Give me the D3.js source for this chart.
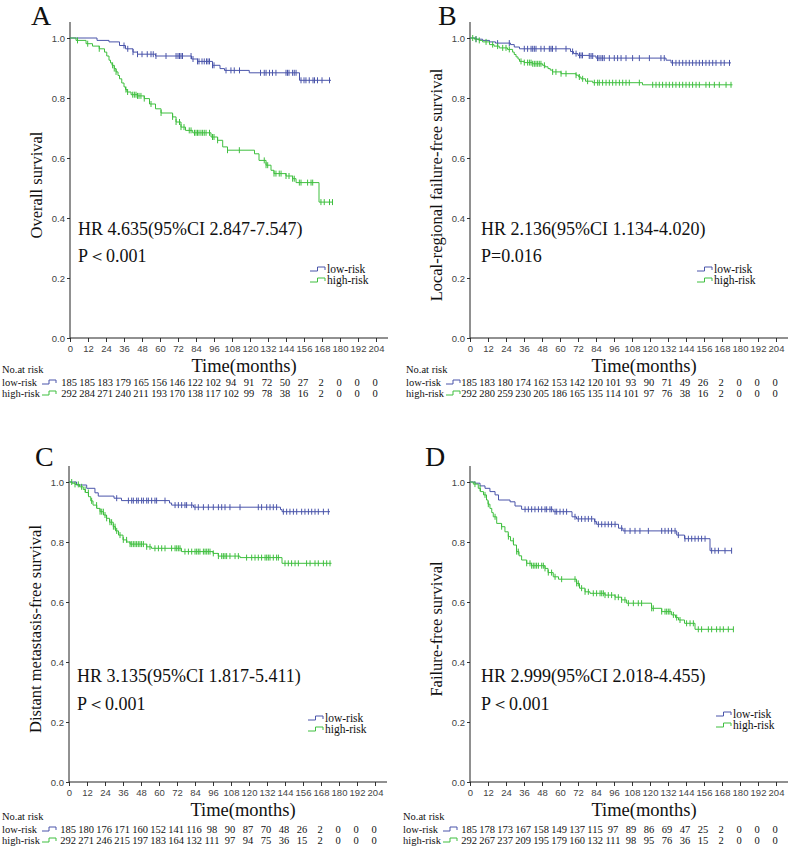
<html>
<head>
<script src="https://d3js.org/d3.v7.min.js"></script>
<style>
  body { margin: 0; background: #fff; }
  text { font-family: "Liberation Serif", "Times New Roman", serif; fill: #111; }
  .tick text { font-family: "Liberation Sans", Arial, sans-serif; fill: #444; }
</style>
</head>
<body>
<svg id="fig" width="789" height="846"></svg>
<script>
// ---- data ----
const monthTicks = [0,12,24,36,48,60,72,84,96,108,120,132,144,156,168,180,192,204];
const survTicks = [0,0.2,0.4,0.6,0.8,1.0];
const groups = ['low-risk', 'high-risk'];

// A: overall survival
const osLow = [[0,1],[18,0.992],[26,0.987],[33,0.975],[37,0.964],[42,0.953],[45,0.946],[57,0.94],[81,0.93],[85,0.922],[95,0.909],[100,0.898],[103,0.892],[119.5,0.884],[153,0.859],[174,0.859]];
const osHigh = [[0,1],[4,0.992],[10.7,0.981],[15,0.973],[19.5,0.964],[23,0.953],[24.5,0.94],[26,0.926],[27,0.917],[28,0.909],[29.5,0.898],[30.7,0.887],[32,0.875],[33,0.864],[34.5,0.85],[36,0.837],[37,0.828],[38,0.82],[40.7,0.811],[45,0.807],[49.5,0.798],[53,0.78],[57,0.764],[60.7,0.75],[68.4,0.737],[70.7,0.72],[74,0.703],[77,0.692],[81.8,0.684],[94,0.67],[98.4,0.659],[101.8,0.637],[105,0.626],[123,0.614],[126,0.592],[130.7,0.576],[134,0.559],[136,0.548],[144,0.54],[148.4,0.531],[150.7,0.518],[166,0.453],[175,0.453]];
const osLowCens = [36,38.5,42,45,48,51.5,54,55.5,57.3,64,70.7,72,73,74,75,80.7,82,85,86,88,89.5,91,92,93,95,96,104,107.3,109.5,113,127,129.5,130.7,133,135,137.3,144,145,146,148.4,149.5,150.7,154,156,157.3,159.5,162,163,165,168,173];
const osHighCens = [5,11.8,19.5,28.4,29.5,30.7,37.3,38.4,41.8,42.9,44,45,46,47.3,49.5,54,60.7,68.4,70.7,73,74,76,79.5,80.7,83,84,85,86,87.3,88.4,89.5,90.7,93,95,96,98.4,105,112.9,129.5,130.7,131.8,136,137.3,139.5,140.7,144,146,148.4,149.5,152.9,154,158.4,160.7,161.8,167.3,169.5,173,175];
const osLowRisk = [185,185,183,179,165,156,146,122,102,94,91,72,50,27,2,0,0,0];
const osHighRisk = [292,284,271,240,211,193,170,138,117,102,99,78,38,16,2,0,0,0];

// B: local-regional failure-free survival
const lrLow = [[0,1],[4,0.996],[8.4,0.992],[13,0.987],[17,0.983],[27,0.978],[29.5,0.97],[33,0.964],[67,0.955],[69,0.948],[72,0.942],[79.5,0.94],[84,0.933],[130.7,0.926],[134,0.917],[174,0.917]];
const lrHigh = [[0,1],[3,0.996],[6,0.992],[8.4,0.987],[13,0.978],[16,0.973],[19.5,0.967],[25,0.962],[28.4,0.953],[29.5,0.945],[30.7,0.937],[32,0.93],[33,0.922],[36,0.918],[41.8,0.914],[48.4,0.909],[50,0.904],[52,0.898],[53.5,0.893],[55,0.887],[60.7,0.881],[70.7,0.876],[72.5,0.87],[74,0.864],[77,0.856],[81.8,0.851],[115,0.844],[175,0.844]];
const lrLowCens = [4,18.4,26.2,36.2,38.4,40.7,41.8,42.9,44,47.3,49.5,52.9,54,55,57.3,64,68.4,70.7,73,74,75,79.5,80.7,81.8,85,86,87.3,88.4,89.5,92.9,96.2,98.4,100.7,104,108.4,112.9,119.6,127.3,129.5,135,137.3,139.5,141.8,144,146.2,148.4,150.7,152.9,155,157.3,159.5,161.8,164,167.3,169.5,173];
const lrHighCens = [1.8,4,6.2,10.7,15.1,18.4,21.8,24,26.2,34,36.2,38.4,39.6,40.7,41.8,42.9,44,45.1,46.2,47.3,49.6,55.1,57.3,60.7,64,70.7,72.9,75.1,78.4,82.9,85.1,86.2,88.4,90.7,92.9,95.1,97.3,99.6,101.8,104,106.2,112.9,121.8,124,126.2,128.4,130.7,132.9,135.1,137.3,139.6,141.8,144,146.2,148.4,150.7,152.9,157.3,159.6,162.9,166.2,170.7,174];
const lrLowRisk = [185,183,180,174,162,153,142,120,101,93,90,71,49,26,2,0,0,0];
const lrHighRisk = [292,280,259,230,205,186,165,135,114,101,97,76,38,16,2,0,0,0];

// C: distant metastasis-free survival
const dmLow = [[0,1],[5,0.99],[11.8,0.979],[17.3,0.964],[19.5,0.953],[30,0.946],[35,0.938],[67,0.93],[68.4,0.923],[83,0.916],[141,0.908],[142,0.901],[174,0.901]];
const dmHigh = [[0,1],[2,0.996],[4,0.992],[7,0.984],[9.5,0.975],[11,0.965],[13,0.951],[14.5,0.937],[16,0.923],[18.5,0.912],[20.7,0.901],[23,0.89],[25,0.879],[27,0.866],[29.5,0.851],[31,0.837],[33,0.823],[36,0.807],[38.5,0.8],[40.7,0.793],[51.8,0.784],[55,0.779],[75,0.768],[96,0.762],[99.5,0.753],[114,0.748],[142,0.729],[175,0.729]];
const dmLowCens = [31.8,39.6,41.8,42.9,45.1,46.2,48.4,49.6,51.8,52.9,55.1,57.3,58.4,64,70.7,72.9,75.1,77.3,78.4,81.8,84,86.2,89.6,92.9,96.2,99.6,101.8,104,107.3,114,126.2,128.4,131.8,134,136.2,138.4,142.9,145.1,147.3,149.6,151.8,155.1,157.3,159.6,161.8,164,166.2,169.6,172.9];
const dmHighCens = [1.8,4,6.2,8.4,10.7,12.9,15.1,18.4,20.7,21.8,22.9,24,25.1,27.3,28.4,29.6,30.7,31.8,34,36.2,38.4,40.7,41.8,42.9,44,45.1,46.2,47.3,48.4,49.6,51.8,54,57.3,59.6,61.8,64,68.4,70.7,71.8,72.9,74,77.3,79.6,81.8,84,85.1,86.2,87.3,89.6,90.7,91.8,92.9,94,96.2,99.6,101.8,102.9,104,105.1,107.3,110.7,112.9,118.4,121.8,124,126.2,128.4,130.7,131.8,132.9,134,136.2,138.4,139.6,144,146.2,148.4,150.7,152.9,158.4,160.7,164,166.2,169.6,171.8,174];
const dmLowRisk = [185,180,176,171,160,152,141,116,98,90,87,70,48,26,2,0,0,0];
const dmHighRisk = [292,271,246,215,197,183,164,132,111,97,94,75,36,15,2,0,0,0];

// D: failure-free survival
const ffLow = [[0,1],[3.3,0.996],[6.7,0.987],[10,0.979],[13.3,0.968],[16.7,0.957],[19,0.94],[26.7,0.934],[30,0.92],[34.4,0.909],[55.5,0.901],[68,0.884],[71,0.877],[83,0.868],[84.4,0.859],[99,0.846],[102,0.837],[137.8,0.823],[143,0.811],[160,0.771],[174.4,0.771]];
const ffHigh = [[0,1],[2.2,0.993],[5.5,0.979],[7,0.968],[9,0.957],[11,0.94],[12,0.926],[13.3,0.912],[14.5,0.898],[15.5,0.884],[17.8,0.862],[21,0.851],[23.3,0.834],[25.5,0.818],[27,0.804],[29,0.79],[31,0.768],[32.7,0.754],[34.4,0.74],[37.8,0.729],[41,0.721],[50,0.712],[52,0.698],[55.5,0.684],[59,0.676],[71,0.662],[73,0.646],[76.7,0.634],[80,0.629],[90,0.623],[96.7,0.616],[101,0.607],[104.4,0.596],[121,0.579],[127.8,0.568],[134.4,0.557],[137,0.548],[139,0.54],[143,0.529],[150,0.509],[175.5,0.509]];
const ffLowCens = [36.7,38.9,41.1,43.3,45.6,47.8,50,51.1,53.3,54.4,56.7,57.8,60,62.2,64.4,70,72.2,74.4,76.7,78.9,81.1,83.3,85.6,87.8,90,92.2,94.4,96.7,101.1,103.3,106.7,110,113.3,118.9,127.8,130,132.2,134.4,136.7,138.9,143.3,145.6,147.8,150,152.2,154.4,156.7,161.1,163.3,165.6,170,174.4];
const ffHighCens = [3.3,6.7,10,12.2,16.7,21.1,25.6,28.9,31.1,32.2,37.8,40,41.1,42.2,43.3,44.4,45.6,47.8,48.9,50,52.2,54.4,56.7,61.1,70,71.1,72.2,74.4,76.7,78.9,82.2,84.4,86.7,87.8,88.9,90,92.2,94.4,96.7,98.9,101.1,103.3,105.6,108.9,112.2,114.4,121.1,122.2,127.8,130,131.1,132.2,133.3,135.6,137.8,140,144.4,146.7,148.9,152.2,154.4,158.9,161.1,164.4,166.7,168.9,172.2,175.6];
const ffLowRisk = [185,178,173,167,158,149,137,115,97,89,86,69,47,25,2,0,0,0];
const ffHighRisk = [292,267,237,209,195,179,160,132,111,98,95,76,36,15,2,0,0,0];

const yTitles = ['Overall survival', 'Local-regional failure-free survival', 'Distant metastasis-free survival', 'Failure-free survival'];
const hrTexts = ['HR 4.635(95%CI 2.847-7.547)', 'HR 2.136(95%CI 1.134-4.020)', 'HR 3.135(95%CI 1.817-5.411)', 'HR 2.999(95%CI 2.018-4.455)'];
const pTexts = ['P\uFF1C0.001', 'P=0.016', 'P\uFF1C0.001', 'P\uFF1C0.001'];

// ---- layout ----
const colors = ['#4a55aa', '#3fbf3f'];
const panels = [
  {key:'A', ox:70,  oy:338, letterX:31,  letterY:25,  hrX:78,  hrY:235, pY:262, legX:310, legY:273, tabX:2,   tabY:373,
   low:osLow, high:osHigh, lowC:osLowCens, highC:osHighCens, lowR:osLowRisk, highR:osHighRisk},
  {key:'B', ox:470, oy:338, letterX:438, letterY:25,  hrX:481, hrY:235, pY:262, legX:697, legY:273, tabX:406, tabY:373,
   low:lrLow, high:lrHigh, lowC:lrLowCens, highC:lrHighCens, lowR:lrLowRisk, highR:lrHighRisk},
  {key:'C', ox:69,  oy:782, letterX:35,  letterY:466, hrX:77,  hrY:682, pY:710, legX:308, legY:722, tabX:2,   tabY:820,
   low:dmLow, high:dmHigh, lowC:dmLowCens, highC:dmHighCens, lowR:dmLowRisk, highR:dmHighRisk},
  {key:'D', ox:470, oy:782, letterX:425, letterY:466, hrX:481, hrY:682, pY:710, legX:716, legY:718, tabX:403, tabY:820,
   low:ffLow, high:ffHigh, lowC:ffLowCens, highC:ffHighCens, lowR:ffLowRisk, highR:ffHighRisk}
];

const svg = d3.select('svg#fig');

// value of a KM step curve at time t
function stepAt(curve, t) {
  let s = curve[0][1];
  curve.forEach(p => { if (p[0] <= t) s = p[1]; });
  return s;
}

// little KM-style legend glyph
function glyph(g, x, y, color, w) {
  g.append('path')
    .attr('d', `M${x},${y} h${w / 2} v-4 h${w / 2} v3`)
    .attr('fill', 'none').attr('stroke', color).attr('stroke-width', 1);
}

panels.forEach((p, i) => {
  const g = svg.append('g');
  const x = d3.scaleLinear().domain([0, 204]).range([p.ox, p.ox + 306]);
  const y = d3.scaleLinear().domain([0, 1]).range([p.oy, p.oy - 300]);

  // axes
  const ax = g.append('g').attr('transform', `translate(0,${p.oy})`)
    .call(d3.axisBottom(x).tickValues(monthTicks).tickSize(4).tickPadding(3));
  const ay = g.append('g').attr('transform', `translate(${p.ox},0)`)
    .call(d3.axisLeft(y).tickValues(survTicks).tickFormat(d3.format('.1f')).tickSize(3).tickPadding(2));
  [ax, ay].forEach(a => {
    a.select('.domain').remove();
    a.selectAll('.tick line').attr('stroke', '#333');
    a.selectAll('.tick text').style('font-size', '9.5px');
  });
  g.append('line').attr('x1', p.ox).attr('x2', p.ox + 318).attr('y1', p.oy).attr('y2', p.oy)
    .attr('stroke', '#222');
  g.append('line').attr('x1', p.ox).attr('x2', p.ox).attr('y1', p.oy).attr('y2', p.oy - 316)
    .attr('stroke', '#222');

  // curves
  const line = d3.line().x(d => x(d[0])).y(d => y(d[1])).curve(d3.curveStepAfter);
  [[p.low, p.lowC], [p.high, p.highC]].forEach(([curve, cens], k) => {
    g.append('path').datum(curve).attr('d', line)
      .attr('fill', 'none').attr('stroke', colors[k]).attr('stroke-width', 1);
    g.selectAll(null).data(cens).join('line')
      .attr('x1', d => x(d)).attr('x2', d => x(d))
      .attr('y1', d => y(stepAt(curve, d)) - 3).attr('y2', d => y(stepAt(curve, d)) + 3)
      .attr('stroke', colors[k]).attr('stroke-width', 1);
  });

  // texts
  g.append('text').attr('x', p.letterX).attr('y', p.letterY).style('font-size', '28px').text(p.key);
  g.append('text')
    .attr('transform', `translate(${p.ox - 28},${p.oy - 153}) rotate(-90)`)
    .attr('text-anchor', 'middle').style('font-size', '16.5px').text(yTitles[i]);
  g.append('text').attr('x', p.ox + 174).attr('y', p.oy + 34).attr('text-anchor', 'middle')
    .style('font-size', '18.5px').text('Time(months)');
  g.append('text').attr('x', p.hrX).attr('y', p.hrY).style('font-size', '18px').text(hrTexts[i]);
  g.append('text').attr('x', p.hrX).attr('y', p.pY).style('font-size', '18px').text(pTexts[i]);

  // legend
  groups.forEach((name, k) => {
    const ly = p.legY + k * 11;
    glyph(g, p.legX, ly - 2, colors[k], 15);
    g.append('text').attr('x', p.legX + 17).attr('y', ly).style('font-size', '11.5px').text(name);
  });

  // number at risk table
  g.append('text').attr('x', p.tabX).attr('y', p.tabY).style('font-size', '10.5px').text('No.at risk');
  [p.lowR, p.highR].forEach((row, k) => {
    const ry = p.tabY + 13 + k * 11;
    g.append('text').attr('x', p.tabX).attr('y', ry).style('font-size', '10.5px').text(groups[k]);
    glyph(g, p.tabX + 40, ry - 2, colors[k], 14);
    g.selectAll(null).data(row).join('text')
      .attr('x', (d, j) => x(monthTicks[j]) - 1).attr('y', ry)
      .attr('text-anchor', 'middle').style('font-size', '10.5px').text(d => d);
  });
});
</script>
</body>
</html>
